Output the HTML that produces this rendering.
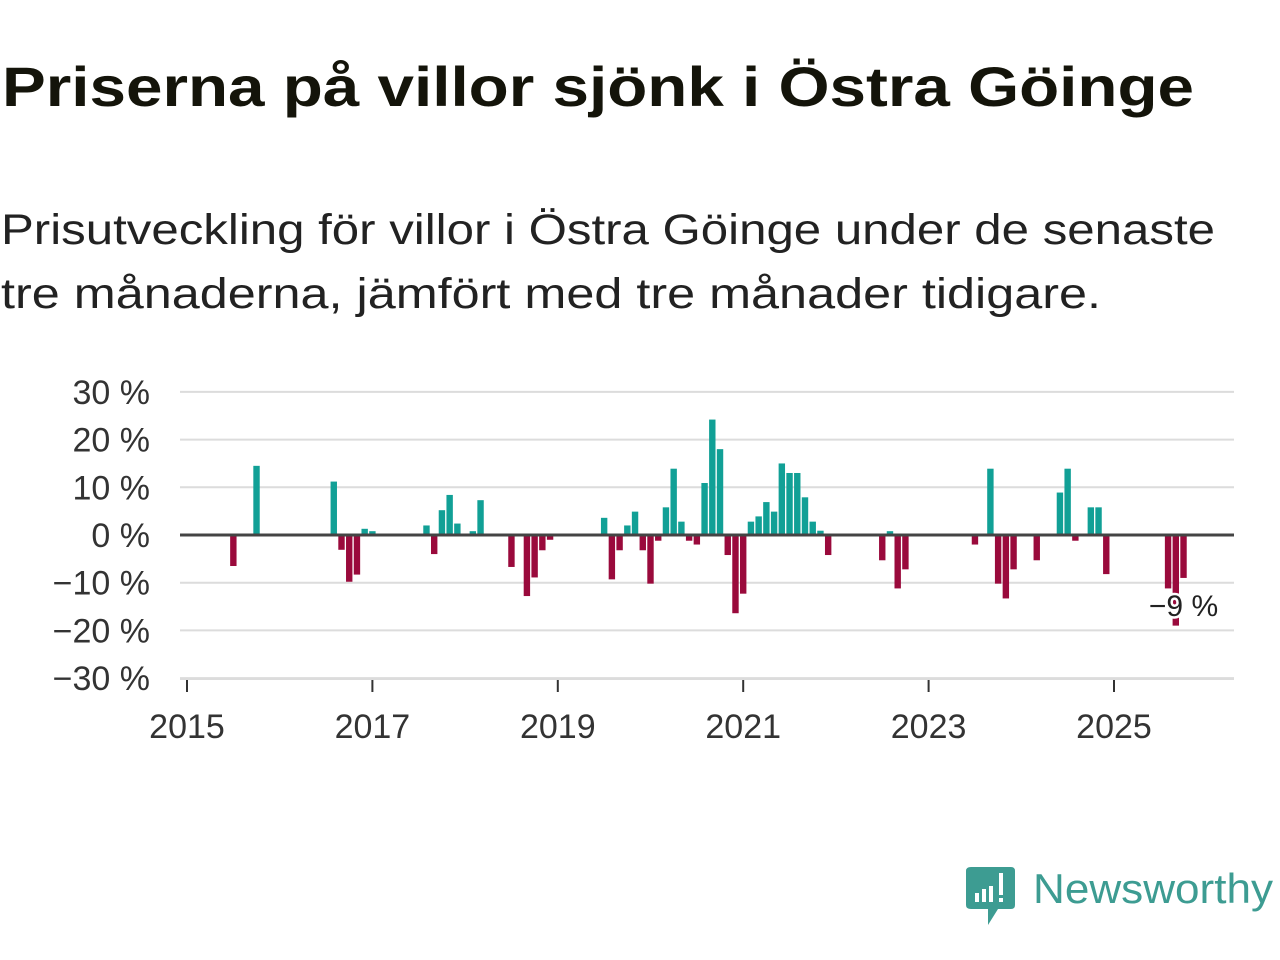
<!DOCTYPE html>
<html><head><meta charset="utf-8"><style>
html,body{margin:0;padding:0;background:#fff;width:1280px;height:960px;overflow:hidden}
svg{display:block}
text{font-family:"Liberation Sans",sans-serif}
</style></head><body>
<svg id="chart" width="1280" height="960" viewBox="0 0 1280 960" xmlns="http://www.w3.org/2000/svg">
<text x="2" y="106" font-size="56" font-weight="bold" fill="#14140a" textLength="1192" lengthAdjust="spacingAndGlyphs">Priserna på villor sjönk i Östra Göinge</text>
<text x="1" y="244" font-size="43" fill="#222" textLength="1214" lengthAdjust="spacingAndGlyphs">Prisutveckling för villor i Östra Göinge under de senaste</text>
<text x="1" y="308" font-size="43" fill="#222" textLength="1100" lengthAdjust="spacingAndGlyphs">tre månaderna, jämfört med tre månader tidigare.</text>
<g id="grid"></g>
<g id="bars"></g>
<g id="axes"></g>
<g>
<path d="M971 867 H1011 Q1015 867 1015 871 V905 Q1015 909 1011 909 H998 L988 925 V909 H971 Q966 909 966 905 V871 Q966 867 971 867 Z" fill="#3d9c92"/>
<rect x="975" y="893" width="4" height="9" fill="#fff"/>
<rect x="982" y="889" width="4" height="13" fill="#fff"/>
<rect x="989" y="886" width="4" height="16" fill="#fff"/>
<rect x="999" y="873" width="4" height="22" fill="#fff"/>
<rect x="999" y="898" width="4" height="4" fill="#fff"/>
<text x="1033" y="903" font-size="42" fill="#3d9c92" textLength="240" lengthAdjust="spacingAndGlyphs">Newsworthy</text>
</g>
</svg>
<script>
const monthIndex=[6,9,19,20,21,22,23,24,31,32,33,34,35,37,38,42,44,45,46,47,54,55,56,57,58,59,60,61,62,63,64,65,66,67,68,69,70,71,72,73,74,75,76,77,78,79,80,81,82,83,90,91,92,93,102,104,105,106,107,110,113,114,115,117,118,119,127,128,129];
const values=[-6.5,14.5,11.2,-3.1,-9.8,-8.3,1.3,0.8,2,-4,5.2,8.4,2.4,0.8,7.3,-6.7,-12.8,-8.9,-3.2,-1,3.6,-9.3,-3.2,2,4.9,-3.2,-10.2,-1.2,5.8,13.9,2.8,-1.2,-2,10.9,24.2,18,-4.2,-16.4,-12.3,2.8,3.9,6.9,4.9,15,13,13,7.9,2.8,0.9,-4.2,-5.3,0.8,-11.2,-7.2,-2,13.9,-10.2,-13.3,-7.2,-5.3,8.9,13.9,-1.2,5.8,5.8,-8.2,-11.2,-19,-9];
const yTicks=[30,20,10,0,-10,-20,-30];
const yTickLabels=["30 %","20 %","10 %","0 %","−10 %","−20 %","−30 %"];
const xTickYears=[2015,2017,2019,2021,2023,2025];
const lastLabel="−9 %";
const NS="http://www.w3.org/2000/svg";
const y0=535,pxPer=4.77;
function yScale(v){return y0-v*pxPer;}
function xScale(m){return 187+m*7.725;}
function mk(tag,attrs,parent){const e=document.createElementNS(NS,tag);for(const k in attrs)e.setAttribute(k,attrs[k]);parent.appendChild(e);return e;}
const grid=document.getElementById('grid'),bars=document.getElementById('bars'),axes=document.getElementById('axes');
yTicks.forEach((t,i)=>{
  if(t!==0){const l=mk('line',{x1:180,x2:1234,y1:yScale(t),y2:yScale(t),stroke:'#dcdcdc','stroke-width':2},grid);
  
  }
  const tx=mk('text',{x:150,y:yScale(t)+12,'font-size':34,fill:'#333','text-anchor':'end'},axes);
  tx.textContent=yTickLabels[i];
  
  
});
monthIndex.forEach((m,i)=>{
  const v=values[i];const x=xScale(m)-3.2;
  const r=mk('rect',{x:x,width:6.4,y:Math.min(yScale(v),y0),height:Math.abs(yScale(v)-y0),fill:v>=0?'#11a096':'#9a0a3c'},bars);
  
  
});
const zl=mk('line',{x1:180,x2:1234,y1:y0,y2:y0,stroke:'#444','stroke-width':3},axes);


const bl=mk('line',{x1:180,x2:1234,y1:679,y2:679,stroke:'#dcdcdc','stroke-width':2},axes);


xTickYears.forEach(yr=>{
  const x=xScale((yr-2015)*12);
  const tk=mk('line',{x1:x,x2:x,y1:680,y2:692,stroke:'#333','stroke-width':2},axes);
  
  
  const tx=mk('text',{x:x,y:738,'font-size':34,fill:'#333','text-anchor':'middle'},axes);
  tx.textContent=yr;
  
  
});
const li=monthIndex.length-1;
const lab=mk('text',{x:xScale(monthIndex[li]),y:616,'font-size':30,fill:'#222','text-anchor':'middle',stroke:'#fff','stroke-width':5,'paint-order':'stroke'},axes);
lab.textContent=lastLabel;


</script>
</body></html>
